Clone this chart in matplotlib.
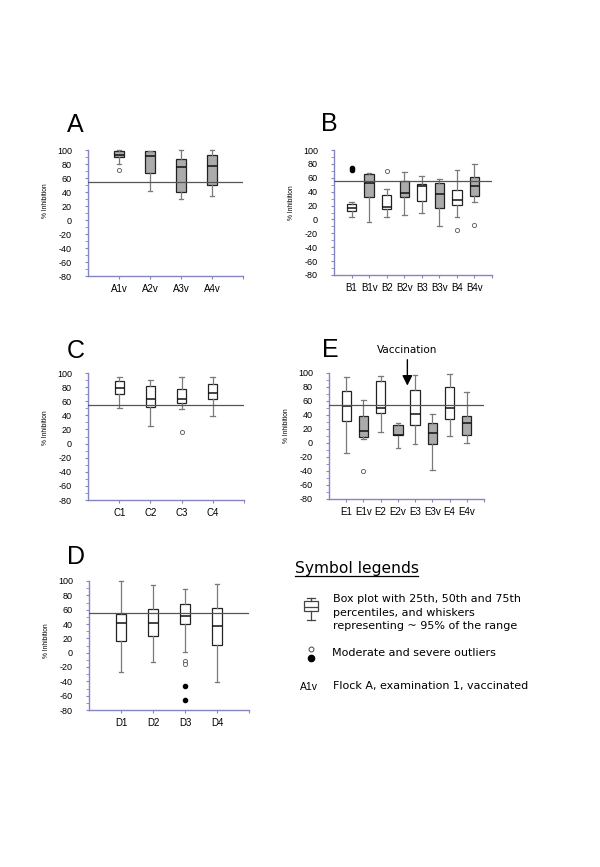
import numpy as np
import matplotlib.pyplot as plt

plt.rcParams['font.family'] = ['Liberation Sans', 'DejaVu Sans']
plt.rcParams['axes.unicode_minus'] = False

W, H = 600, 867
SPINE = '#8585c2'
GRAY = '#ababab'
WHISK = '#7a7a7a'
EDGE = '#222222'

# --- data ---
a_labels = ['A1v', 'A2v', 'A3v', 'A4v']
a_vacc = [1, 1, 1, 1]
a_q1 = [90.5, 66.7, 39.5, 49.5]
a_med = [92.4, 91.4, 75.7, 77.6]
a_q3 = [98.1, 98.1, 86.7, 92.4]
a_lo = [79.5, 41.0, 29.5, 33.8]
a_hi = [100, 99, 100, 100]
a_mod = {0: [71.9]}
a_sev = {}

b_labels = ['B1', 'B1v', 'B2', 'B2v', 'B3', 'B3v', 'B4', 'B4v']
b_vacc = [0, 1, 0, 1, 0, 1, 0, 1]
b_q1 = [12.1, 31.8, 15.0, 31.8, 27.0, 16.9, 20.3, 33.3]
b_med = [16.0, 52.5, 18.4, 37.6, 48.2, 36.6, 28.0, 48.2]
b_q3 = [21.7, 65.9, 34.7, 55.4, 51.5, 52.5, 42.4, 61.6]
b_lo = [4.0, -4.2, 3.0, 6.4, 8.8, -9.5, 3.5, 24.6]
b_hi = [25.6, 66.4, 43.4, 67.8, 62.6, 57.8, 70.7, 79.8]
b_mod = {2: [70.2], 6: [-14.7], 7: [-8.5]}
b_sev = {0: [74.6, 71.4]}

c_labels = ['C1', 'C2', 'C3', 'C4']
c_vacc = [0, 0, 0, 0]
c_q1 = [70.7, 52.3, 57.0, 62.7]
c_med = [78.3, 63.6, 62.7, 71.2]
c_q3 = [88.2, 81.1, 76.9, 84.4]
c_lo = [49.9, 24.4, 48.5, 39.5]
c_hi = [94.8, 89.6, 93.9, 94.8]
c_mod = {2: [15.9]}
c_sev = {}

e_labels = ['E1', 'E1v', 'E2', 'E2v', 'E3', 'E3v', 'E4', 'E4v']
e_vacc = [0, 1, 0, 1, 0, 1, 0, 1]
e_q1 = [31.9, 8.1, 42.4, 11.0, 25.2, -1.9, 34.3, 11.0]
e_med = [52.9, 16.7, 50.5, 11.9, 41.4, 14.3, 50.0, 28.1]
e_q3 = [73.8, 38.1, 88.6, 25.2, 75.7, 28.6, 79.5, 38.1]
e_lo = [-14.8, 5.7, 15.7, -6.7, -1.9, -39.0, 10.0, -0.5]
e_hi = [93.8, 61.4, 95.2, 28.1, 97.1, 41.0, 98.0, 72.9]
e_mod = {1: [-39.5]}
e_sev = {}

d_labels = ['D1', 'D2', 'D3', 'D4']
d_vacc = [0, 0, 0, 0]
d_q1 = [15.8, 22.8, 40.0, 11.2]
d_med = [40.9, 40.9, 50.7, 37.7]
d_q3 = [54.4, 60.5, 67.4, 61.9]
d_lo = [-27.4, -13.5, 0.5, -41.4]
d_hi = [100, 94, 89.3, 95.8]
d_mod = {2: [-11.6, -15.8]}
d_sev = {2: [-46, -66]}

threshold = 55

fig = plt.figure(figsize=(W / 100, H / 100), dpi=100)


def px_axes(l, t, r, b):
    return fig.add_axes([l / W, 1 - b / H, (r - l) / W, (b - t) / H])


def draw_panel(rect, labels, vacc, q1, med, q3, lo, hi, mod, sev, ylab_y):
    ax = px_axes(*rect)
    n = len(labels)
    slot = (rect[2] - rect[0]) / (n + 1)
    w = 9.3 / slot
    stats = [dict(label=labels[i], q1=q1[i], med=med[i], q3=q3[i],
                  whislo=lo[i], whishi=hi[i], fliers=mod.get(i, []))
             for i in range(n)]
    art = ax.bxp(stats, positions=range(1, n + 1), widths=w, capwidths=w * 0.5,
                 patch_artist=True, showfliers=True,
                 boxprops=dict(edgecolor=EDGE, linewidth=0.9),
                 whiskerprops=dict(color=WHISK, linewidth=0.9),
                 capprops=dict(color=WHISK, linewidth=0.9),
                 medianprops=dict(color='#111111', linewidth=1.1),
                 flierprops=dict(marker='o', markersize=3, markerfacecolor='white',
                                 markeredgecolor='#555555', markeredgewidth=0.6))
    for box, v in zip(art['boxes'], vacc):
        box.set_facecolor(GRAY if v else 'white')
    for k in art:
        for a in art[k]:
            a.set_clip_on(False)
    for i, vals in sev.items():
        ax.plot([i + 1] * len(vals), vals, 'o', color='black', markersize=3,
                clip_on=False)
    ax.axhline(threshold, color='#555555', linewidth=0.9, zorder=5)
    ax.set_xlim(0, n + 1)
    ax.set_ylim(-80, 100)
    ax.set_xticks(range(1, n + 2))
    ax.set_xticklabels(labels + [''])
    ax.set_yticks(range(-80, 101, 20))
    ax.set_yticks(range(-70, 100, 20), minor=True)
    for s in ['top', 'right']:
        ax.spines[s].set_visible(False)
    for s in ['left', 'bottom']:
        ax.spines[s].set_color(SPINE)
        ax.spines[s].set_linewidth(1.0)
    ax.tick_params(axis='y', which='both', direction='out', length=2.5,
                   color=SPINE, pad=9, labelsize=6.5)
    ax.tick_params(axis='x', direction='out', length=2.5, color=SPINE,
                   pad=3.5, labelsize=7)
    ax.set_ylabel('% Inhibition', fontsize=4.8)
    ax.yaxis.set_label_coords(-39 / (rect[2] - rect[0]), ylab_y)
    return ax


draw_panel((88, 150, 243, 276), a_labels, a_vacc, a_q1, a_med, a_q3, a_lo, a_hi, a_mod, a_sev, 0.6)
draw_panel((334, 150, 492, 275), b_labels, b_vacc, b_q1, b_med, b_q3, b_lo, b_hi, b_mod, b_sev, 0.58)
draw_panel((88, 373, 244, 500), c_labels, c_vacc, c_q1, c_med, c_q3, c_lo, c_hi, c_mod, c_sev, 0.57)
ax_e = draw_panel((329, 373, 484, 499), e_labels, e_vacc, e_q1, e_med, e_q3, e_lo, e_hi, e_mod, e_sev, 0.58)
draw_panel((89, 581, 249, 710), d_labels, d_vacc, d_q1, d_med, d_q3, d_lo, d_hi, d_mod, d_sev, 0.54)

# vaccination arrow
ax_e.annotate('', xy=(4.55, 82), xytext=(4.55, 119), annotation_clip=False,
              arrowprops=dict(arrowstyle='-|>,head_length=0.6,head_width=0.3',
                              color='black', linewidth=1.0, shrinkA=0, shrinkB=0))
ax_e.text(4.55, 133, 'Vaccination', ha='center', va='center', fontsize=7.5,
          family='DejaVu Sans', clip_on=False)

# panel letters
for letter, x, y in [('A', 67, 132), ('B', 321, 131), ('C', 67, 358),
                     ('E', 322, 357), ('D', 67, 564)]:
    fig.text(x / W, 1 - y / H, letter, fontsize=18, va='baseline', ha='left')

# legend
def ftext(x, y, s, **kw):
    fig.text(x / W, 1 - y / H, s, va='baseline', ha='left', **kw)


ftext(295, 573, 'Symbol legends', fontsize=11.2, family='DejaVu Sans')
fig.add_artist(plt.Line2D([295 / W, 418 / W], [1 - 576 / H] * 2, color='black',
                          linewidth=0.9))
ftext(333, 602.3, 'Box plot with 25th, 50th and 75th', fontsize=8, family='DejaVu Sans')
ftext(333, 615.6, 'percentiles, and whiskers', fontsize=8, family='DejaVu Sans')
ftext(333, 628.9, 'representing ~ 95% of the range', fontsize=8, family='DejaVu Sans')
ftext(332, 655.7, 'Moderate and severe outliers', fontsize=8, family='DejaVu Sans')
ftext(300, 690.5, 'A1v', fontsize=7.5)
ftext(333, 689, 'Flock A, examination 1, vaccinated', fontsize=8, family='DejaVu Sans')

# legend glyphs
leg_box = dict(label='', whislo=44, q1=53, med=57.3, q3=63, whishi=66.3, fliers=[])
leg_mod = [14.7]
leg_sev = [6.5]
lg = px_axes(295, 594, 326, 664)
lg.set_xlim(0, 31)
lg.set_ylim(0, 70)
lg.axis('off')
lg.bxp([leg_box], positions=[15.7], widths=14, capwidths=8, patch_artist=True,
       boxprops=dict(edgecolor='#444444', facecolor='white', linewidth=0.9),
       whiskerprops=dict(color='#444444', linewidth=0.9),
       capprops=dict(color='#444444', linewidth=0.9),
       medianprops=dict(color='#444444', linewidth=0.9))
lg.plot([15.7] * len(leg_mod), leg_mod, 'o', markersize=3.5, markerfacecolor='white',
        markeredgecolor='#444444', markeredgewidth=0.7, clip_on=False)
lg.plot([15.7] * len(leg_sev), leg_sev, 'o', markersize=4.5, color='black', clip_on=False)

fig.savefig('out.png', dpi=100)
